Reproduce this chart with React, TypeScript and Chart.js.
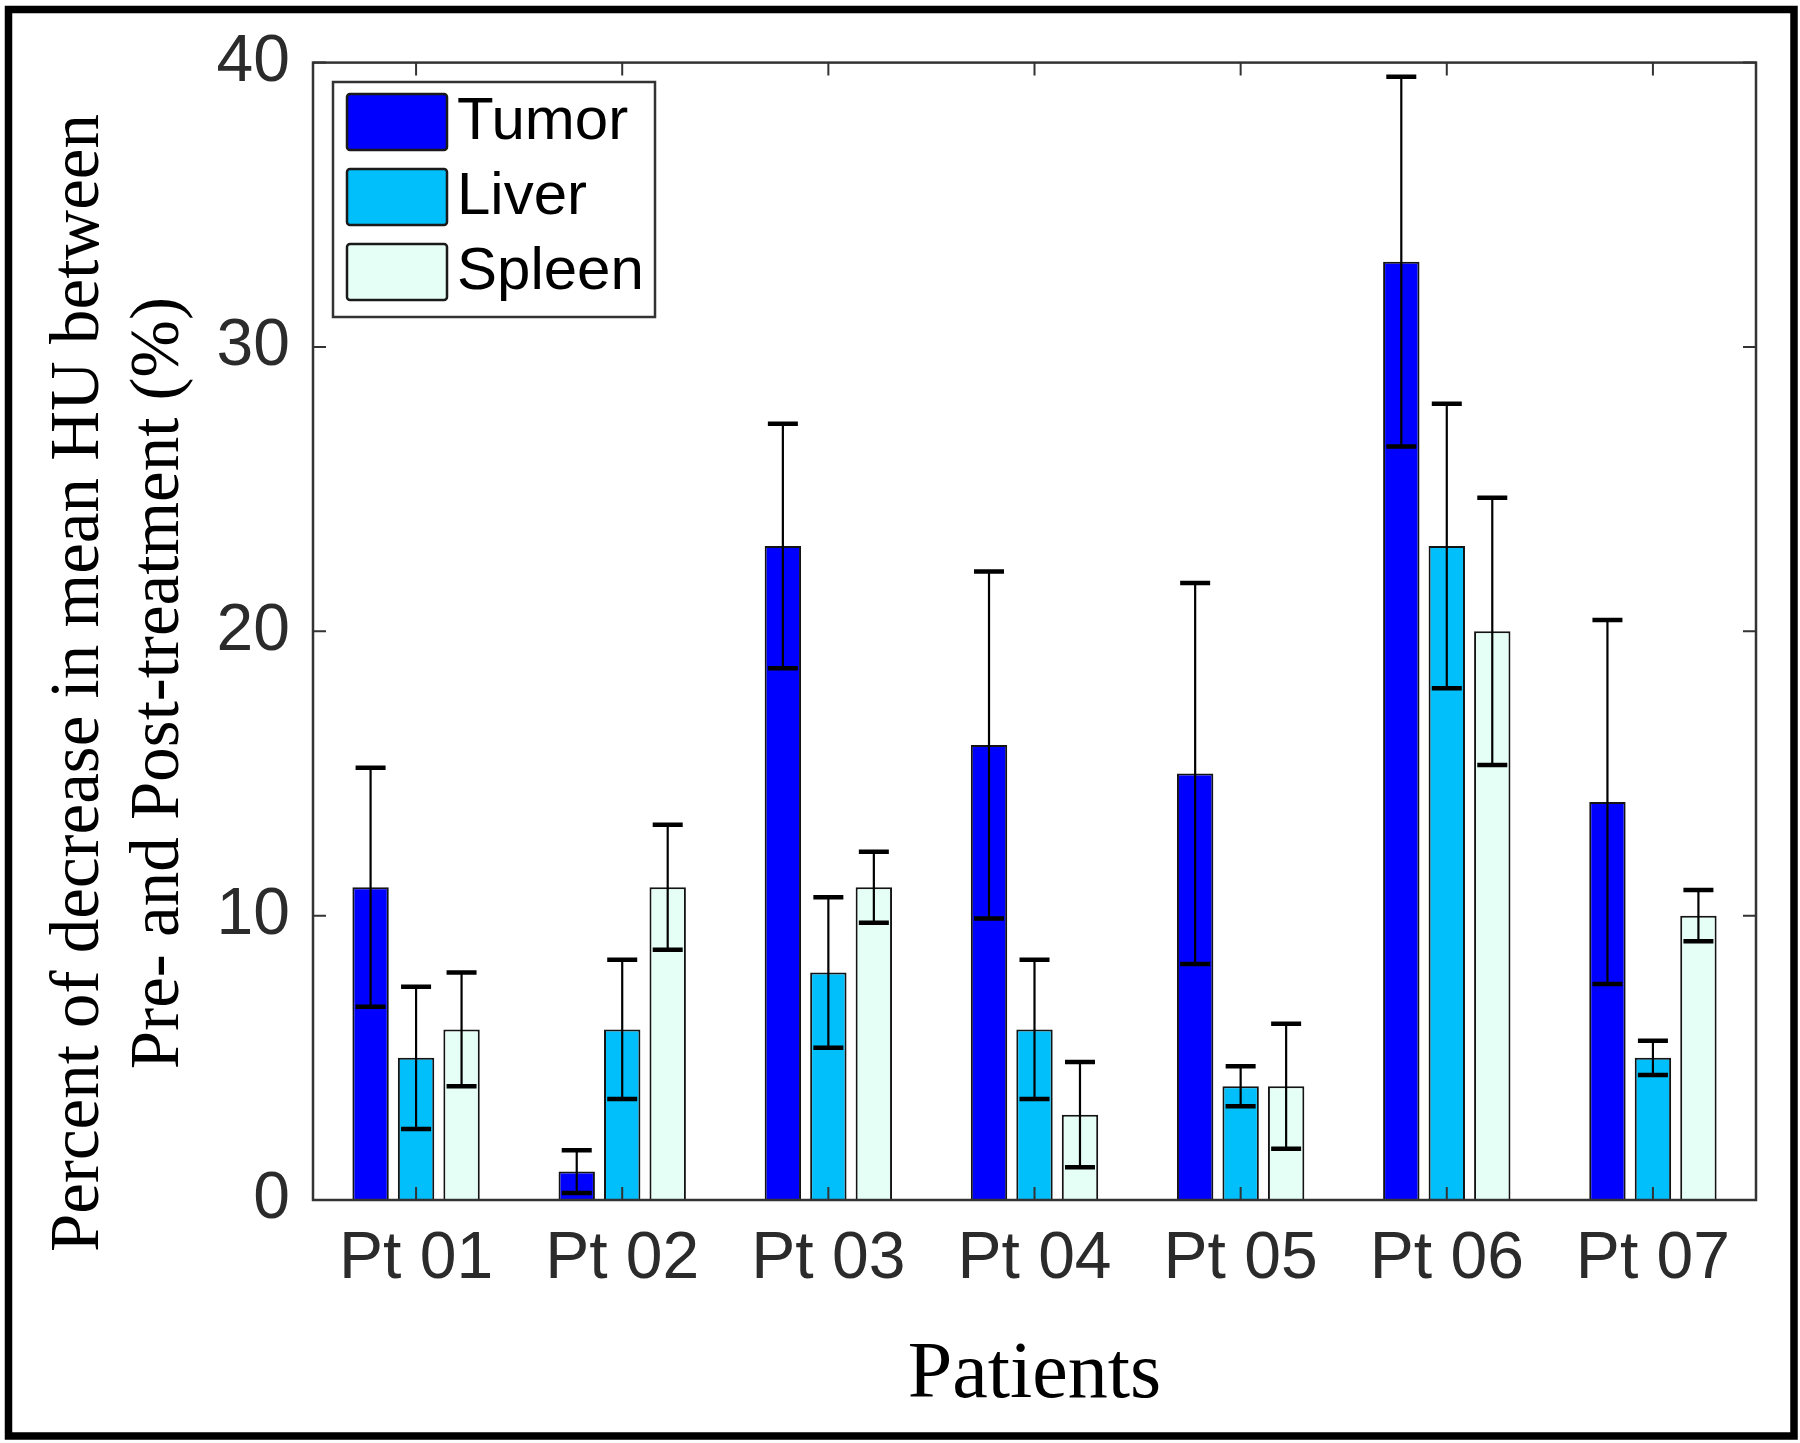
import React, { useEffect, useRef } from 'react';
import { Chart, registerables } from 'chart.js';

Chart.register(...registerables);

const categories = ['Pt 01', 'Pt 02', 'Pt 03', 'Pt 04', 'Pt 05', 'Pt 06', 'Pt 07'];
const seriesNames = ['Tumor', 'Liver', 'Spleen'];
const tumorValues = [11, 1, 23, 16, 15, 33, 14];
const tumorErrors = [4.2, 0.75, 4.3, 6.1, 6.7, 6.5, 6.4];
const liverValues = [5, 6, 8, 6, 4, 23, 5];
const liverErrors = [2.5, 2.45, 2.65, 2.45, 0.7, 5.0, 0.6];
const spleenValues = [6, 11, 11, 3, 4, 20, 10];
const spleenErrors = [2.0, 2.2, 1.25, 1.85, 2.2, 4.7, 0.9];
const yAxisMin = 0;
const yAxisMax = 40;
const yAxisStep = 10;
const yTitleLines = ['Percent of decrease in mean HU between', 'Pre- and Post-treatment (%)'];
const xTitle = 'Patients';

const seriesColors = ['#0000ff', 'rgb(0,191,250)', 'rgb(230,255,246)'];

const decorPlugin = {
  id: 'decor',
  afterDatasetsDraw(chart: any) {
    const { ctx, chartArea: a, scales } = chart;
    const xs = scales.x;
    const ys = scales.y;
    ctx.save();
    // error bars
    chart.data.datasets.forEach((ds: any, di: number) => {
      const meta = chart.getDatasetMeta(di);
      meta.data.forEach((bar: any, i: number) => {
        const v = ds.data[i];
        const e = ds.errors[i];
        const px = bar.x;
        const yHi = ys.getPixelForValue(v + e);
        const yLo = ys.getPixelForValue(v - e);
        ctx.strokeStyle = '#000';
        ctx.lineWidth = 2.2;
        ctx.beginPath();
        ctx.moveTo(px, yHi);
        ctx.lineTo(px, yLo);
        ctx.stroke();
        ctx.lineWidth = 4.5;
        ctx.beginPath();
        ctx.moveTo(px - 15, yHi);
        ctx.lineTo(px + 15, yHi);
        ctx.moveTo(px - 15, yLo);
        ctx.lineTo(px + 15, yLo);
        ctx.stroke();
      });
    });
    // frame
    ctx.strokeStyle = '#333';
    ctx.lineWidth = 2.5;
    ctx.strokeRect(a.left, a.top, a.right - a.left, a.bottom - a.top);
    // inward ticks
    ctx.lineWidth = 2;
    const tl = 13;
    ctx.beginPath();
    xs.ticks.forEach((_t: any, i: number) => {
      const px = xs.getPixelForTick(i);
      ctx.moveTo(px, a.top);
      ctx.lineTo(px, a.top + tl);
      ctx.moveTo(px, a.bottom);
      ctx.lineTo(px, a.bottom - tl);
    });
    ys.ticks.forEach((t: any) => {
      const py = ys.getPixelForValue(t.value);
      ctx.moveTo(a.left, py);
      ctx.lineTo(a.left + tl, py);
      ctx.moveTo(a.right, py);
      ctx.lineTo(a.right - tl, py);
    });
    ctx.stroke();
    // legend
    const lx = 333, ly = 82, lw = 322, lh = 235;
    ctx.fillStyle = '#fff';
    ctx.fillRect(lx, ly, lw, lh);
    ctx.strokeStyle = '#333';
    ctx.lineWidth = 2.5;
    ctx.strokeRect(lx, ly, lw, lh);
    chart.data.datasets.forEach((ds: any, di: number) => {
      const sy = 94 + di * 75;
      ctx.fillStyle = ds.backgroundColor;
      ctx.strokeStyle = '#1a1a1a';
      ctx.lineWidth = 2.5;
      ctx.beginPath();
      ctx.roundRect(347, sy, 100, 56, 3);
      ctx.fill();
      ctx.stroke();
      ctx.fillStyle = '#000';
      ctx.font = '60px "Liberation Sans", Arial, sans-serif';
      ctx.textAlign = 'left';
      ctx.textBaseline = 'middle';
      ctx.fillText(ds.label, 457, sy + 28);
    });
    ctx.restore();
  },
  afterDraw(chart: any) {
    const { ctx } = chart;
    ctx.save();
    ctx.strokeStyle = '#000';
    ctx.lineWidth = 7.5;
    ctx.strokeRect(8.5, 9.5, 1785.5, 1426.5);
    ctx.restore();
  },
};

export default function App() {
  const canvasRef = useRef<HTMLCanvasElement | null>(null);

  useEffect(() => {
    document.body.style.margin = '0';
    const canvas = canvasRef.current;
    if (!canvas) return;
    const pad = '\u00A0'.repeat(6);
    const chart = new Chart(canvas, {
      type: 'bar',
      data: {
        labels: categories,
        datasets: [
          { label: seriesNames[0], data: tumorValues, errors: tumorErrors, backgroundColor: seriesColors[0] },
          { label: seriesNames[1], data: liverValues, errors: liverErrors, backgroundColor: seriesColors[1] },
          { label: seriesNames[2], data: spleenValues, errors: spleenErrors, backgroundColor: seriesColors[2] },
        ].map((d: any) => ({
          ...d,
          borderColor: '#141414',
          borderWidth: 2,
          borderSkipped: 'start',
          categoryPercentage: 0.662,
          barPercentage: 0.8,
        })) as any,
      },
      options: {
        animation: false,
        responsive: false,
        maintainAspectRatio: false,
        devicePixelRatio: 1,
        layout: { padding: { left: 10, right: 44, top: 61, bottom: 10 } },
        plugins: {
          legend: { display: false },
          tooltip: { enabled: false },
        },
        scales: {
          x: {
            grid: { display: false, drawTicks: false },
            border: { display: false },
            ticks: {
              color: '#2b2b2b',
              padding: 20,
              font: { family: '"Liberation Sans", Arial, sans-serif', size: 66, lineHeight: 1.2 },
              maxRotation: 0,
              autoSkip: false,
            },
            title: {
              display: true,
              text: xTitle,
              color: '#000',
              font: { family: '"Liberation Serif", "Times New Roman", serif', size: 80, lineHeight: 1.2 },
              padding: { top: 0, bottom: 9 },
            },
            afterFit: (scale: any) => {
              scale.height = 233;
            },
          },
          y: {
            min: yAxisMin,
            max: yAxisMax,
            grid: { display: false, drawTicks: false },
            border: { display: false },
            ticks: {
              stepSize: yAxisStep,
              color: '#2b2b2b',
              padding: 23,
              font: { family: '"Liberation Sans", Arial, sans-serif', size: 66, lineHeight: 1.2 },
            },
            title: {
              display: true,
              text: yTitleLines.map((l) => l + pad),
              color: '#000',
              font: { family: '"Liberation Serif", "Times New Roman", serif', size: 69, lineHeight: 80 / 69 },
              padding: { top: 30, bottom: 0 },
            },
            afterFit: (scale: any) => {
              scale.width = 303;
            },
          },
        },
      } as any,
      plugins: [decorPlugin],
    });
    return () => chart.destroy();
  }, []);

  return (
    <div style={{ position: 'absolute', left: 0, top: 0, width: 1800, height: 1443, background: '#fff' }}>
      <canvas ref={canvasRef} width={1800} height={1443} style={{ width: 1800, height: 1443, display: 'block' }} />
    </div>
  );
}
